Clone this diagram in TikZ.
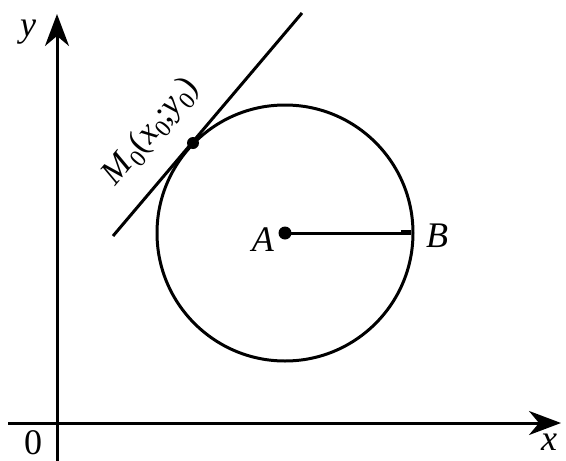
\documentclass[tikz,border=0pt]{standalone}
\usepackage{fontspec}
\setmainfont{Liberation Serif}
\usetikzlibrary{arrows.meta}
\begin{document}
\begin{tikzpicture}[x=1pt,y=-1pt, line width=3pt,
  axis/.style={-{Stealth[length=32pt,width=24pt,inset=10pt]}},
  lbl/.style={inner sep=0pt,font=\fontsize{36}{40}\selectfont},
  mlbl/.style={inner sep=0pt,font=\fontsize{34}{38}\selectfont},
  dotpt/.style={circle,fill,inner sep=0pt,minimum size=13pt}]
\useasboundingbox (0,0) rectangle (566,461);
% axes
\coordinate (xs) at (8,423);
\coordinate (xe) at (561,423);
\coordinate (ys) at (57,461);
\coordinate (ye) at (57,14);
\draw[axis] (xs) -- (xe);
\draw[axis] (ys) -- (ye);
\node[lbl] (zero) at (33,443) {0};
\node[lbl] (xl) at (549,442) {\textit{x}};
\node[lbl] (yl) at (28,32) {\textit{y}};
% circle
\node[dotpt] (A) at (285,233) {};
\draw (A.center) circle[radius=128];
\coordinate (B) at (411,233);
\draw (A.center) -- (B);
\coordinate (tk1) at (401,231.5);
\coordinate (tk2) at (411,231.5);
\draw[line width=3.5pt] (tk1) -- (tk2);
\node[lbl] (Al) at (263,240) {\textit{A}};
\node[lbl] (Bl) at (437,236) {\textit{B}};
% tangent
\coordinate (t1) at (113,236);
\coordinate (t2) at (302,13);
\draw (t1) -- (t2);
\node[dotpt, minimum size=12pt] (M) at (193,143) {};
\node[mlbl, rotate=49.7] (Ml) at (151,132)
  {\textit{M}\raisebox{-0.22em}{\fontsize{24}{28}\selectfont 0}(\textit{x}\raisebox{-0.22em}{\fontsize{24}{28}\selectfont 0};\textit{y}\raisebox{-0.22em}{\fontsize{24}{28}\selectfont 0})};
\end{tikzpicture}
\end{document}
